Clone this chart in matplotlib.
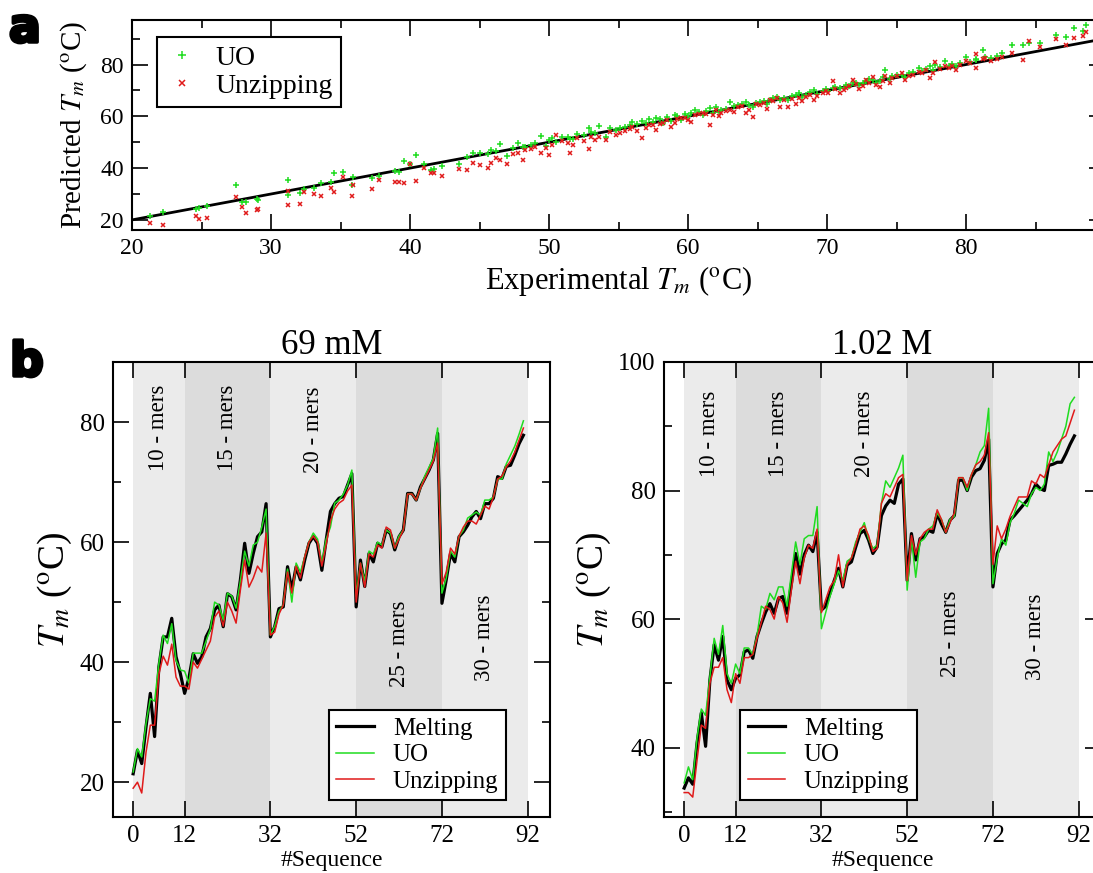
import numpy as np
import matplotlib
matplotlib.use("Agg")
import matplotlib.pyplot as plt
import matplotlib.patheffects as pe
from matplotlib.ticker import MultipleLocator, FixedLocator

plt.rcParams["font.family"] = ["Liberation Serif", "DejaVu Serif"]
plt.rcParams["mathtext.fontset"] = "stix"

# panel a: experimental vs predicted melting temperatures
exp_tm = [21.3, 22.2, 24.6, 24.8, 25.4, 27.5, 27.9, 28.2, 29.0, 29.1, 31.2, 31.2,
          32.1, 32.4, 33.1, 33.6, 34.3, 34.5, 35.2, 35.8, 35.9, 37.3, 37.8, 38.9,
          39.6, 39.2, 40.4, 40.0, 41.0, 41.5, 41.7, 42.3, 43.5, 44.1, 44.5, 45.0,
          45.6, 45.8, 46.5, 47.0, 47.8, 48.1, 48.3, 49.0, 49.4, 49.8, 50.0, 50.5,
          51.4, 51.5, 51.7, 52.9, 53.6, 54.1, 54.8, 55.1, 55.5, 56.3, 56.7, 57.2,
          57.7, 58.2, 59.1, 59.5, 60.2, 60.5, 61.1, 61.6, 61.8, 62.4, 63.0, 63.6,
          64.2, 64.7, 65.2, 65.9, 66.4, 66.6, 67.2, 67.8, 68.5, 69.1, 69.7, 70.4,
          70.9, 71.4, 71.9, 72.3, 72.8, 73.3, 73.8, 74.2, 74.7, 75.4, 75.9, 76.6,
          77.4, 77.8, 78.5, 79.3, 80.0, 80.7, 80.7, 81.2, 81.4, 82.6, 83.3, 84.1,
          84.5, 85.3, 86.5, 87.2, 87.8, 88.6, 88.4,
          52.0, 52.5, 53.0, 53.3, 54.4, 55.8, 56.0, 57.0, 57.5, 58.0, 58.5, 58.8,
          59.2, 59.8, 60.0, 60.8, 61.3, 62.0, 62.2, 62.7, 63.3, 63.9, 64.4, 64.9,
          65.5, 65.7, 66.1, 66.9, 67.5, 68.0, 68.2, 68.8, 69.3, 69.9, 70.1, 70.6,
          71.2, 71.6, 72.1, 72.6, 73.0, 73.5, 74.0, 74.5, 75.0, 75.6, 76.2, 76.8,
          77.1, 77.6, 78.1, 78.8, 79.0, 79.6, 80.3, 81.8, 82.2, 46.2, 47.4, 48.7,
          50.2, 50.9]
uo_tm = [21.5, 23.2, 24.1, 24.5, 25.5, 33.4, 26.9, 26.9, 28.1, 27.7, 35.4, 29.7,
         30.5, 31.8, 32.5, 34.2, 34.5, 38.1, 38.5, 33.6, 36.7, 36.1, 37.1, 38.8,
         42.9, 38.5, 45.1, 41.6, 41.6, 39.3, 39.6, 40.9, 41.6, 44.4, 45.7, 46.0,
         45.4, 46.9, 49.3, 44.7, 49.8, 48.2, 48.2, 49.8, 52.4, 48.6, 50.8, 50.1,
         52.1, 51.1, 51.1, 55.4, 56.3, 52.1, 54.7, 55.4, 56.0, 57.0, 58.3, 58.8,
         59.2, 57.3, 60.5, 58.6, 61.4, 62.4, 60.5, 63.1, 61.1, 62.4, 65.7, 64.4,
         65.7, 63.7, 65.7, 66.3, 67.6, 66.3, 66.3, 68.3, 68.3, 70.2, 69.6, 70.9,
         70.9, 72.2, 72.8, 72.2, 73.5, 74.1, 73.5, 77.9, 75.4, 76.1, 76.7, 78.6,
         79.3, 79.9, 81.2, 79.3, 83.1, 81.8, 82.0, 85.6, 83.1, 84.4, 87.6, 87.6,
         88.3, 88.3, 91.4, 90.7, 94.0, 95.3, 93.1,
         53.0, 52.8, 54.0, 53.5, 55.5, 56.5, 57.8, 57.5, 58.0, 59.0, 59.6, 58.2,
         60.0, 60.8, 60.2, 61.5, 62.0, 63.5, 61.8, 63.0, 63.8, 64.8, 64.2, 65.2,
         66.0, 64.8, 67.0, 67.2, 67.8, 69.0, 67.6, 69.4, 68.8, 70.6, 69.9, 71.5,
         71.0, 71.8, 73.0, 72.8, 74.6, 72.8, 75.0, 74.4, 75.8, 75.2, 77.0, 77.4,
         78.2, 78.0, 79.0, 79.6, 80.2, 80.6, 81.0, 82.6, 83.4, 46.8, 47.6, 49.0,
         51.5, 52.0]
unzip_tm = [18.9, 18.0, 21.5, 20.3, 20.6, 28.9, 24.8, 22.8, 23.9, 24.2, 31.3, 25.8,
            26.2, 30.6, 29.9, 29.1, 32.5, 30.9, 36.7, 29.3, 33.6, 31.9, 35.4, 34.5,
            34.4, 34.8, 34.9, 41.7, 40.2, 38.2, 38.1, 37.0, 39.7, 39.3, 41.8, 41.2,
            40.2, 42.1, 43.1, 41.6, 46.0, 43.3, 47.0, 48.2, 46.0, 47.6, 45.1, 52.9,
            49.8, 45.7, 48.9, 47.5, 51.9, 51.0, 52.9, 53.5, 54.2, 54.2, 51.6, 56.5,
            54.8, 57.3, 57.6, 59.2, 58.0, 60.5, 61.4, 56.7, 60.5, 61.1, 62.4, 63.7,
            61.1, 59.9, 64.4, 66.3, 66.9, 63.7, 63.5, 64.9, 67.6, 66.3, 68.9, 73.5,
            69.2, 70.9, 74.1, 70.5, 74.1, 75.1, 71.3, 75.6, 74.8, 76.9, 75.4, 77.3,
            74.8, 80.8, 79.3, 78.0, 81.2, 78.6, 84.1, 82.0, 82.5, 82.9, 84.4, 81.8,
            88.9, 86.9, 89.8, 87.6, 90.2, 92.7, 91.0,
            51.5, 50.5, 52.0, 50.8, 53.8, 55.0, 56.0, 55.6, 56.8, 57.0, 58.4, 56.0,
            58.8, 59.5, 58.6, 60.8, 61.0, 62.5, 60.2, 62.0, 61.5, 64.0, 62.4, 64.8,
            65.2, 63.0, 65.8, 66.4, 66.8, 67.0, 66.0, 68.4, 68.0, 69.8, 69.0, 70.4,
            70.0, 71.6, 72.4, 71.8, 73.0, 72.0, 73.6, 73.0, 75.4, 74.2, 76.0, 76.8,
            77.8, 76.6, 78.2, 78.8, 79.6, 80.0, 80.6, 81.4, 82.0, 44.0, 45.5, 47.2,
            49.0, 50.5]

# panel b: predictions for 92 sequences at two salt concentrations
seq = np.arange(92)
group_edges = [0, 12, 32, 52, 72, 92]
group_names = ["10 - mers", "15 - mers", "20 - mers", "25 - mers", "30 - mers"]

melt_69 = [21.4, 25.3, 23.1, 29.2, 34.8, 27.6, 39.2, 44.2, 44.2, 47.3, 40.9, 38.1,
           34.8, 37.3, 41.4, 39.8, 40.9, 44.2, 45.6, 48.7, 49.5, 45.9, 51.4, 50.9,
           48.7, 53.7, 59.8, 54.8, 58.1, 60.9, 61.7, 66.4,
           44.2, 45.9, 48.9, 49.2, 55.9, 52.0, 55.9, 53.7, 57.0, 59.8, 60.9, 59.8,
           55.3, 60.3, 65.1, 66.4, 67.3, 67.6, 69.5, 71.4,
           49.2, 57.0, 52.6, 58.1, 56.7, 59.8, 59.2, 62.0, 61.4, 58.7, 60.9, 62.0,
           68.1, 68.1, 67.0, 69.2, 70.6, 72.0, 73.7, 78.1,
           49.8, 53.7, 58.1, 56.7, 60.9, 61.7, 62.8, 64.2, 65.1, 63.9, 66.4, 66.4,
           67.3, 70.9, 70.6, 72.6, 72.8, 74.5, 76.4, 77.8]
uo_69 = [21.7, 25.6, 24.2, 29.8, 33.9, 33.5, 39.8, 44.5, 43.1, 46.4, 40.3, 38.7,
         38.5, 36.5, 41.5, 41.5, 41.5, 43.5, 45.5, 50.0, 49.5, 47.0, 51.5, 51.0,
         49.0, 53.5, 58.5, 56.0, 59.5, 60.0, 62.5, 65.5,
         44.5, 46.0, 48.5, 49.5, 55.5, 50.0, 56.5, 55.0, 57.5, 60.0, 61.5, 60.5,
         56.5, 60.5, 62.5, 66.5, 67.0, 68.0, 69.5, 72.0,
         51.0, 56.5, 53.5, 58.5, 58.0, 60.0, 59.5, 62.0, 61.5, 59.0, 61.0, 62.0,
         68.0, 68.0, 67.0, 69.0, 71.0, 72.5, 74.0, 79.0,
         51.5, 54.0, 58.5, 57.5, 61.0, 62.0, 64.0, 64.5, 65.0, 64.5, 67.0, 67.0,
         67.5, 70.5, 70.5, 73.0, 74.5, 76.0, 78.0, 80.2]
unzip_69 = [19.0, 20.0, 18.2, 25.0, 29.5, 29.5, 38.0, 41.0, 39.5, 43.0, 37.5, 36.0,
            36.0, 35.5, 40.0, 39.0, 40.5, 42.0, 43.5, 47.5, 48.5, 46.0, 50.0, 48.5,
            46.5, 52.0, 57.0, 52.5, 54.0, 56.0, 55.0, 61.5,
            44.5, 45.0, 48.0, 49.5, 55.0, 51.5, 56.0, 54.0, 57.5, 60.0, 61.0, 60.0,
            56.0, 59.5, 63.5, 65.5, 66.5, 67.0, 68.5, 69.5,
            50.0, 56.5, 52.5, 58.0, 57.5, 59.5, 59.0, 62.5, 62.0, 59.0, 60.5, 62.0,
            68.0, 68.0, 67.0, 69.0, 70.5, 72.0, 73.5, 76.5,
            53.0, 55.0, 59.0, 58.0, 61.0, 62.5, 63.5, 63.5, 63.0, 64.5, 66.0, 65.5,
            67.5, 70.5, 71.0, 72.5, 73.5, 75.0, 77.0, 79.0]

melt_102 = [33.7, 35.3, 34.3, 40.7, 45.4, 40.2, 50.5, 56.0, 53.6, 57.3, 50.5, 49.0,
            50.8, 51.3, 54.9, 55.2, 53.9, 57.3, 59.3, 61.1, 62.4, 60.9, 63.2, 63.5,
            60.9, 65.5, 70.2, 67.0, 70.0, 71.5, 70.5, 73.5,
            61.4, 62.0, 64.0, 66.0, 67.9, 65.0, 68.4, 68.9, 71.2, 73.3, 73.8, 72.3,
            70.2, 71.2, 76.1, 77.6, 78.5, 78.0, 81.0, 81.8,
            66.0, 73.3, 69.2, 72.5, 72.8, 73.8, 73.5, 76.4, 74.8, 73.5, 75.4, 76.1,
            81.6, 81.6, 80.0, 82.1, 83.1, 83.4, 84.7, 88.0,
            65.0, 70.2, 71.7, 72.3, 75.4, 76.1, 76.9, 77.7, 78.5, 79.5, 81.0, 80.3,
            80.0, 83.9, 84.1, 84.4, 84.4, 85.7, 87.2, 88.5]
uo_102 = [34.5, 37.0, 35.0, 41.5, 46.0, 45.0, 51.0, 57.0, 54.5, 59.0, 51.5, 50.0,
          53.0, 51.5, 55.5, 55.5, 54.5, 57.5, 62.0, 61.5, 64.0, 63.0, 65.0, 65.0,
          62.0, 67.0, 72.0, 68.5, 72.5, 73.0, 73.0, 77.5,
          58.5, 61.0, 63.5, 65.5, 67.5, 66.0, 69.0, 69.5, 72.0, 73.5, 75.0, 72.5,
          71.0, 71.5, 78.0, 81.5, 80.5, 82.0, 83.5, 85.5,
          64.5, 72.5, 66.5, 72.0, 72.5, 74.0, 74.5, 76.5, 75.5, 73.5, 75.5, 76.0,
          82.0, 82.0, 80.0, 82.5, 84.0, 86.0, 87.0, 92.8,
          65.5, 69.5, 72.5, 71.5, 75.0, 76.5, 78.5, 78.0, 77.5, 79.5, 80.5, 80.0,
          81.0, 86.0, 84.5, 86.0, 88.0, 90.0, 93.5, 94.5]
unzip_102 = [33.0, 33.0, 32.3, 38.0, 43.5, 43.0, 50.0, 52.5, 52.5, 54.0, 49.0, 47.0,
             51.5, 50.0, 54.0, 54.0, 54.5, 57.0, 59.5, 62.0, 61.5, 60.0, 63.5, 62.5,
             59.5, 64.5, 69.0, 65.5, 69.5, 71.5, 71.0, 74.0,
             61.0, 63.0, 65.0, 66.0, 70.0, 65.0, 68.5, 69.5, 71.5, 74.0, 74.5, 73.0,
             70.5, 71.0, 78.0, 79.5, 79.0, 80.5, 82.0, 82.5,
             66.0, 73.0, 70.0, 72.5, 73.5, 74.0, 74.0, 77.0, 75.5, 73.5, 75.0, 76.5,
             82.0, 82.0, 80.5, 82.5, 84.0, 84.5, 85.5, 89.0,
             68.5, 74.5, 72.5, 74.0, 76.0, 77.5, 79.0, 79.0, 79.0, 81.5, 81.0, 82.5,
             82.0, 84.0, 86.0, 87.0, 88.0, 88.5, 90.5, 92.5]

GREEN = "#1fdc1f"
RED = "#e01a1a"
LIGHT = "#ebebeb"
DARK = "#dcdcdc"


def style_axes(ax, labelsize):
    for sp in ax.spines.values():
        sp.set_linewidth(1.5)
    ax.tick_params(which="both", direction="in", top=True, right=True,
                   labelsize=labelsize, width=1.2)
    ax.tick_params(which="major", length=11.5, pad=6)
    ax.tick_params(which="minor", length=5.5)


def melting_panel(ax, melt, uo, unzip, title, ylim, label_y, legend_x):
    for i in range(5):
        ax.axvspan(group_edges[i], group_edges[i + 1],
                   color=LIGHT if i % 2 == 0 else DARK, lw=0, zorder=0)
    ax.plot(seq, melt, color="black", lw=2.3, label="Melting", zorder=2)
    ax.plot(seq, uo, color=GREEN, lw=1.1, label="UO", zorder=3)
    ax.plot(seq, unzip, color=RED, lw=1.1, label="Unzipping", zorder=4)
    for i, name in enumerate(group_names):
        mid = 0.5 * (group_edges[i] + group_edges[i + 1])
        ax.text(mid, label_y[i], name, rotation=90, ha="center", va="center",
                fontsize=16.5, zorder=5)
    ax.set_xlim(-4.7, 97.2)
    ax.set_ylim(*ylim)
    ax.xaxis.set_major_locator(FixedLocator(group_edges))
    ax.yaxis.set_major_locator(MultipleLocator(20))
    ax.yaxis.set_minor_locator(MultipleLocator(10))
    style_axes(ax, 18)
    ax.set_title(title, fontsize=25, pad=6)
    ax.set_xlabel("#Sequence", fontsize=17, labelpad=2)
    ax.set_ylabel(r"$T_m$ ($^{\mathrm{o}}$C)", fontsize=27, labelpad=4)
    leg = ax.legend(loc="lower right", bbox_to_anchor=(legend_x, 0.037),
                    fontsize=18, frameon=True, fancybox=False, framealpha=1,
                    edgecolor="black", handlelength=1.5, handletextpad=0.75,
                    borderpad=0.3, labelspacing=0.15, borderaxespad=0)
    leg.get_frame().set_linewidth(1.5)


fig = plt.figure(figsize=(10.93, 8.73), dpi=100)

# panel a
ax_a = fig.add_axes([132 / 1093, 1 - 230 / 873, 973 / 1093, 210 / 873])
ax_a.plot([20, 90], [20, 90], color="black", lw=2.0, zorder=2)
ax_a.plot(exp_tm, uo_tm, ls="none", marker="+", ms=5, mew=1.1, color=GREEN,
          label="UO", zorder=3)
ax_a.plot(exp_tm, unzip_tm, ls="none", marker="x", ms=3.5, mew=1.1, color=RED,
          label="Unzipping", zorder=4)
ax_a.set_xlim(20, 90)
ax_a.set_ylim(16.1, 97.2)
ax_a.xaxis.set_minor_locator(MultipleLocator(5))
ax_a.yaxis.set_major_locator(MultipleLocator(20))
ax_a.yaxis.set_minor_locator(MultipleLocator(10))
style_axes(ax_a, 17)
ax_a.set_xticks([20, 30, 40, 50, 60, 70, 80])
ax_a.set_xlabel(r"Experimental $T_m$ ($^{\mathrm{o}}$C)", fontsize=22, labelpad=3)
ax_a.set_ylabel(r"Predicted $T_m$ ($^{\mathrm{o}}$C)", fontsize=21, labelpad=8)
leg_a = ax_a.legend(loc="upper left", bbox_to_anchor=(0.0257, 0.919),
                    fontsize=20, frameon=True, fancybox=False, framealpha=1,
                    edgecolor="black", handlelength=1.2, handletextpad=0.6,
                    borderpad=0.3, labelspacing=0.1, borderaxespad=0,
                    markerscale=1.2)
leg_a.get_frame().set_linewidth(1.5)

# panel b
ax_b1 = fig.add_axes([113 / 1093, 1 - 817 / 873, 437 / 1093, 455 / 873])
melting_panel(ax_b1, melt_69, uo_69, unzip_69, "69 mM", (14.2, 90),
              [79, 79, 78.7, 43, 44], 0.899)
ax_b2 = fig.add_axes([664 / 1093, 1 - 817 / 873, 437 / 1093, 455 / 873])
melting_panel(ax_b2, melt_102, uo_102, unzip_102, "1.02 M", (29.2, 100),
              [88.9, 88.9, 88.9, 57.7, 57.3], 0.579)

# heavy panel letters
heavy = [pe.withStroke(linewidth=2.5, foreground="black")]
fig.text(9 / 1093, 1 - 42 / 873, "a", fontsize=34, fontweight="bold",
         family="DejaVu Sans", path_effects=heavy)
fig.text(10 / 1093, 1 - 376 / 873, "b", fontsize=34, fontweight="bold",
         family="DejaVu Sans", path_effects=heavy)

fig.savefig("out.png", dpi=100)
